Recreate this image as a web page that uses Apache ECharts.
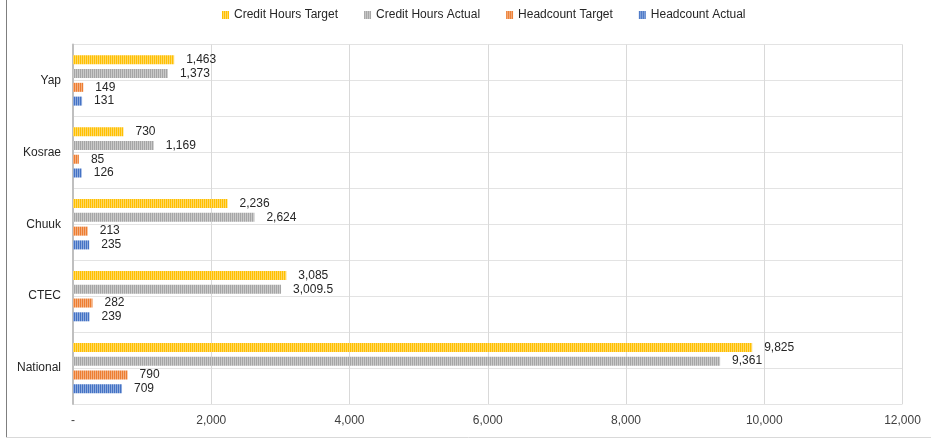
<!DOCTYPE html>
<html>
<head>
<meta charset="utf-8">
<script src="https://cdn.jsdelivr.net/npm/echarts@6/dist/echarts.min.js"></script>
<style>
html,body{margin:0;padding:0;background:#fff;}
#chart{width:931px;height:439px;}
</style>
</head>
<body>
<div id="chart"></div>
<script>
const categories = ['National', 'CTEC', 'Chuuk', 'Kosrae', 'Yap'];
const seriesNames = ['Credit Hours Target', 'Credit Hours Actual', 'Headcount Target', 'Headcount Actual'];
const creditHoursTarget = [9825, 3085, 2236, 730, 1463];
const creditHoursActual = [9361, 3009.5, 2624, 1169, 1373];
const headcountTarget = [790, 282, 213, 85, 149];
const headcountActual = [709, 239, 235, 126, 131];
const xTicks = [0, 2000, 4000, 6000, 8000, 10000, 12000];

const baseColors = ['#FFC000', '#A5A5A5', '#ED7D31', '#4472C4'];
const lightColors = ['#FFD865', '#CACACA', '#F4AF80', '#8EABDE'];

function stripe(main, light) {
  const c = document.createElement('canvas');
  c.width = 2; c.height = 4;
  const ctx = c.getContext('2d');
  ctx.fillStyle = main; ctx.fillRect(0, 0, 1, 4);
  ctx.fillStyle = light; ctx.fillRect(1, 0, 1, 4);
  return { image: c, repeat: 'repeat' };
}

const seriesData = [creditHoursTarget, creditHoursActual, headcountTarget, headcountActual];
const fmt = v => v === 0 ? '-' : v.toLocaleString('en-US', { maximumFractionDigits: 1 });
const FONT = 'Liberation Sans, Arial, sans-serif';

const series = seriesNames.map((name, i) => ({
  name: name,
  type: 'bar',
  yAxisIndex: 0,
  data: seriesData[i],
  barWidth: 9,
  barGap: '53%',
  itemStyle: { color: stripe(baseColors[i], lightColors[i]) },
  label: {
    show: true,
    position: 'right',
    distance: 12,
    color: '#262626',
    fontSize: 12,
    fontFamily: FONT,
    formatter: p => fmt(p.value)
  },
  emphasis: { disabled: true }
}));

const chart = echarts.init(document.getElementById('chart'), null, { renderer: 'canvas' });
chart.setOption({
  animation: false,
  backgroundColor: '#fff',
  legend: {
    left: 222,
    top: 9,
    padding: 0,
    itemWidth: 7,
    itemHeight: 8,
    itemGap: 26,
    icon: 'rect',
    textStyle: { fontSize: 12, color: '#262626', fontFamily: FONT },
    data: seriesNames.map((n, i) => ({ name: n, itemStyle: { color: stripe(baseColors[i], lightColors[i]) } }))
  },
  grid: { left: 73, right: 28.5, top: 44.5, bottom: 35, containLabel: false },
  xAxis: {
    type: 'value',
    min: xTicks[0],
    max: xTicks[xTicks.length - 1],
    interval: 2000,
    axisLine: { show: false },
    axisTick: { show: false },
    splitLine: { show: true, lineStyle: { color: '#D9D9D9', width: 1 } },
    axisLabel: {
      color: '#404040', fontSize: 12, margin: 11,
      fontFamily: FONT,
      formatter: v => fmt(v)
    }
  },
  yAxis: [
    {
      type: 'category',
      data: categories,
      axisLine: { show: true, lineStyle: { color: '#BFBFBF', width: 2 } },
      axisTick: { show: false },
      splitLine: { show: false },
      axisLabel: { color: '#262626', fontSize: 12, margin: 12, fontFamily: FONT }
    },
    {
      type: 'category',
      data: ['a','b','c','d','e','f','g','h','i','j'],
      position: 'left',
      axisLine: { show: false },
      axisTick: { show: false },
      axisLabel: { show: false },
      splitLine: { show: true, lineStyle: { color: '#E3E3E3', width: 1 } }
    }
  ],
  graphic: [
    { type: 'line', shape: { x1: 6.5, y1: 0, x2: 6.5, y2: 438 }, style: { stroke: '#7F7F7F', lineWidth: 1 }, z: 100 },
    { type: 'line', shape: { x1: 6, y1: 437.5, x2: 931, y2: 437.5 }, style: { stroke: '#D9D9D9', lineWidth: 1 }, z: 100 }
  ],
  series: series
});
</script>
</body>
</html>
